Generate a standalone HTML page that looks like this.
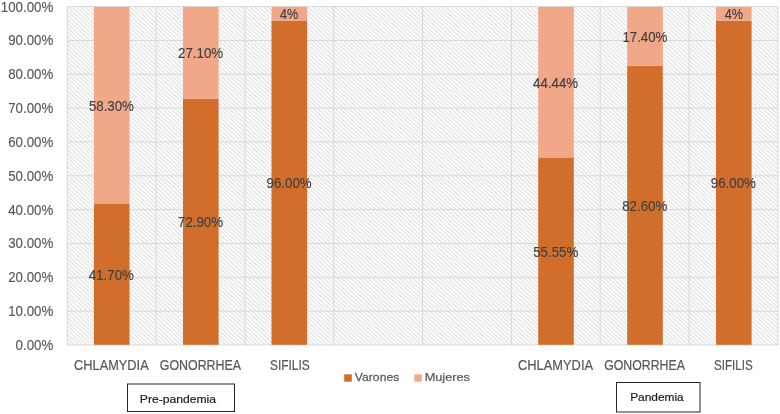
<!DOCTYPE html>
<html><head><meta charset="utf-8"><style>
html,body{margin:0;padding:0;background:#fff;width:780px;height:414px;overflow:hidden}
svg{display:block;will-change:transform}
text{font-family:"Liberation Sans",sans-serif}
</style></head><body>
<svg width="780" height="414" viewBox="0 0 780 414">
<defs>
<pattern id="h" patternUnits="userSpaceOnUse" x="67.25" y="6.6" width="4.45" height="4.2"><path d="M0,0 L4.45,4.2 M-4.45,0 L0,4.2 M4.45,0 L8.9,4.2 M0,-4.2 L4.45,0 M0,4.2 L4.45,8.4" stroke="#D8D8D8" stroke-width="1.0" fill="none"/></pattern>
</defs>

<rect x="67.25" y="6.6" width="710.65" height="338.40" fill="url(#h)"/>
<line x1="67.25" y1="345.00" x2="777.9" y2="345.00" stroke="#D9D9D9" stroke-width="1"/>
<line x1="67.25" y1="311.16" x2="777.9" y2="311.16" stroke="#D9D9D9" stroke-width="1"/>
<line x1="67.25" y1="277.32" x2="777.9" y2="277.32" stroke="#D9D9D9" stroke-width="1"/>
<line x1="67.25" y1="243.48" x2="777.9" y2="243.48" stroke="#D9D9D9" stroke-width="1"/>
<line x1="67.25" y1="209.64" x2="777.9" y2="209.64" stroke="#D9D9D9" stroke-width="1"/>
<line x1="67.25" y1="175.80" x2="777.9" y2="175.80" stroke="#D9D9D9" stroke-width="1"/>
<line x1="67.25" y1="141.96" x2="777.9" y2="141.96" stroke="#D9D9D9" stroke-width="1"/>
<line x1="67.25" y1="108.12" x2="777.9" y2="108.12" stroke="#D9D9D9" stroke-width="1"/>
<line x1="67.25" y1="74.28" x2="777.9" y2="74.28" stroke="#D9D9D9" stroke-width="1"/>
<line x1="67.25" y1="40.44" x2="777.9" y2="40.44" stroke="#D9D9D9" stroke-width="1"/>
<line x1="67.25" y1="6.60" x2="777.9" y2="6.60" stroke="#D9D9D9" stroke-width="1"/>
<line x1="67.25" y1="6.6" x2="67.25" y2="345.0" stroke="#D9D9D9" stroke-width="1"/>
<line x1="156.08" y1="6.6" x2="156.08" y2="345.0" stroke="#D9D9D9" stroke-width="1"/>
<line x1="244.91" y1="6.6" x2="244.91" y2="345.0" stroke="#D9D9D9" stroke-width="1"/>
<line x1="333.74" y1="6.6" x2="333.74" y2="345.0" stroke="#D9D9D9" stroke-width="1"/>
<line x1="422.57" y1="6.6" x2="422.57" y2="345.0" stroke="#D9D9D9" stroke-width="1"/>
<line x1="511.41" y1="6.6" x2="511.41" y2="345.0" stroke="#D9D9D9" stroke-width="1"/>
<line x1="600.24" y1="6.6" x2="600.24" y2="345.0" stroke="#D9D9D9" stroke-width="1"/>
<line x1="689.07" y1="6.6" x2="689.07" y2="345.0" stroke="#D9D9D9" stroke-width="1"/>
<line x1="777.90" y1="6.6" x2="777.90" y2="345.0" stroke="#D9D9D9" stroke-width="1"/>
<rect x="93.90" y="204.00" width="35.6" height="140.80" fill="#D26E2B"/>
<rect x="93.90" y="6.80" width="35.6" height="197.20" fill="#F1A889"/>
<rect x="183.00" y="98.90" width="35.6" height="245.90" fill="#D26E2B"/>
<rect x="183.00" y="6.80" width="35.6" height="92.10" fill="#F1A889"/>
<rect x="271.50" y="20.90" width="35.6" height="323.90" fill="#D26E2B"/>
<rect x="271.50" y="6.80" width="35.6" height="14.10" fill="#F1A889"/>
<rect x="538.20" y="157.40" width="35.6" height="187.40" fill="#D26E2B"/>
<rect x="538.20" y="6.80" width="35.6" height="150.60" fill="#F1A889"/>
<rect x="627.20" y="65.70" width="35.6" height="279.10" fill="#D26E2B"/>
<rect x="627.20" y="6.80" width="35.6" height="58.90" fill="#F1A889"/>
<rect x="716.00" y="20.90" width="35.6" height="323.90" fill="#D26E2B"/>
<rect x="716.00" y="6.80" width="35.6" height="14.10" fill="#F1A889"/>
<rect x="344.2" y="374.3" width="7.6" height="7.4" fill="#D26E2B"/>
<rect x="414.3" y="374.3" width="7.5" height="7.4" fill="#F1A889"/>
<rect x="127.5" y="384" width="107" height="27.5" fill="none" stroke="#262626" stroke-width="1"/>
<rect x="616.5" y="382.5" width="83.5" height="29.5" fill="none" stroke="#262626" stroke-width="1"/>
<text transform="translate(88.88,111.00) scale(0.9600,1)" x="0" y="0" font-size="13.85" fill="#404040" stroke="#404040" stroke-width="0.15">58.30%</text>
<text transform="translate(88.81,280.00) scale(0.9600,1)" x="0" y="0" font-size="13.85" fill="#404040" stroke="#404040" stroke-width="0.15">41.70%</text>
<text transform="translate(178.06,58.00) scale(0.9600,1)" x="0" y="0" font-size="13.85" fill="#404040" stroke="#404040" stroke-width="0.15">27.10%</text>
<text transform="translate(178.01,227.00) scale(0.9600,1)" x="0" y="0" font-size="13.85" fill="#404040" stroke="#404040" stroke-width="0.15">72.90%</text>
<text transform="translate(280.10,19.00) scale(0.9100,1)" x="0" y="0" font-size="13.85" fill="#404040" stroke="#404040" stroke-width="0.15">4%</text>
<text transform="translate(266.53,188.00) scale(0.9600,1)" x="0" y="0" font-size="13.85" fill="#404040" stroke="#404040" stroke-width="0.15">96.00%</text>
<text transform="translate(533.11,88.00) scale(0.9600,1)" x="0" y="0" font-size="13.85" fill="#404040" stroke="#404040" stroke-width="0.15">44.44%</text>
<text transform="translate(533.18,257.00) scale(0.9600,1)" x="0" y="0" font-size="13.85" fill="#404040" stroke="#404040" stroke-width="0.15">55.55%</text>
<text transform="translate(622.38,42.00) scale(0.9600,1)" x="0" y="0" font-size="13.85" fill="#404040" stroke="#404040" stroke-width="0.15">17.40%</text>
<text transform="translate(622.23,211.00) scale(0.9600,1)" x="0" y="0" font-size="13.85" fill="#404040" stroke="#404040" stroke-width="0.15">82.60%</text>
<text transform="translate(710.83,188.00) scale(0.9600,1)" x="0" y="0" font-size="13.85" fill="#404040" stroke="#404040" stroke-width="0.15">96.00%</text>
<text transform="translate(724.65,19.00) scale(0.9100,1)" x="0" y="0" font-size="13.85" fill="#404040" stroke="#404040" stroke-width="0.15">4%</text>
<text transform="translate(52.90,350.00) scale(0.9600,1)" x="-38.87" y="0" font-size="13.85" fill="#595959" stroke="#595959" stroke-width="0.15">0.00%</text>
<text transform="translate(52.90,316.00) scale(0.9600,1)" x="-46.57" y="0" font-size="13.85" fill="#595959" stroke="#595959" stroke-width="0.15">10.00%</text>
<text transform="translate(52.90,282.00) scale(0.9600,1)" x="-46.57" y="0" font-size="13.85" fill="#595959" stroke="#595959" stroke-width="0.15">20.00%</text>
<text transform="translate(52.90,248.00) scale(0.9600,1)" x="-46.57" y="0" font-size="13.85" fill="#595959" stroke="#595959" stroke-width="0.15">30.00%</text>
<text transform="translate(52.90,215.00) scale(0.9600,1)" x="-46.57" y="0" font-size="13.85" fill="#595959" stroke="#595959" stroke-width="0.15">40.00%</text>
<text transform="translate(52.90,181.00) scale(0.9600,1)" x="-46.57" y="0" font-size="13.85" fill="#595959" stroke="#595959" stroke-width="0.15">50.00%</text>
<text transform="translate(52.90,147.00) scale(0.9600,1)" x="-46.57" y="0" font-size="13.85" fill="#595959" stroke="#595959" stroke-width="0.15">60.00%</text>
<text transform="translate(52.90,113.00) scale(0.9600,1)" x="-46.57" y="0" font-size="13.85" fill="#595959" stroke="#595959" stroke-width="0.15">70.00%</text>
<text transform="translate(52.90,79.00) scale(0.9600,1)" x="-46.57" y="0" font-size="13.85" fill="#595959" stroke="#595959" stroke-width="0.15">80.00%</text>
<text transform="translate(52.90,45.00) scale(0.9600,1)" x="-46.57" y="0" font-size="13.85" fill="#595959" stroke="#595959" stroke-width="0.15">90.00%</text>
<text transform="translate(52.90,12.00) scale(0.9600,1)" x="-54.27" y="0" font-size="13.85" fill="#595959" stroke="#595959" stroke-width="0.15">100.00%</text>
<text transform="translate(74.06,370.00) scale(0.9080,1)" x="0" y="0" font-size="14.10" fill="#595959" stroke="#595959" stroke-width="0.22">CHLAMYDIA</text>
<text transform="translate(159.78,370.00) scale(0.8804,1)" x="0" y="0" font-size="14.10" fill="#595959" stroke="#595959" stroke-width="0.22">GONORRHEA</text>
<text transform="translate(270.02,370.00) scale(0.8448,1)" x="0" y="0" font-size="14.10" fill="#595959" stroke="#595959" stroke-width="0.22">SIFILIS</text>
<text transform="translate(518.06,370.00) scale(0.9117,1)" x="0" y="0" font-size="14.10" fill="#595959" stroke="#595959" stroke-width="0.22">CHLAMYDIA</text>
<text transform="translate(604.18,370.00) scale(0.8738,1)" x="0" y="0" font-size="14.10" fill="#595959" stroke="#595959" stroke-width="0.22">GONORRHEA</text>
<text transform="translate(713.93,370.00) scale(0.8273,1)" x="0" y="0" font-size="14.10" fill="#595959" stroke="#595959" stroke-width="0.22">SIFILIS</text>
<text transform="translate(354.80,381.00) scale(1.0616,1)" x="0" y="0" font-size="11.50" fill="#595959" stroke="#595959" stroke-width="0.25">Varones</text>
<text transform="translate(424.68,381.00) scale(1.1076,1)" x="0" y="0" font-size="11.50" fill="#595959" stroke="#595959" stroke-width="0.25">Mujeres</text>
<text transform="translate(139.83,403.00) scale(1.0566,1)" x="0" y="0" font-size="11.50" fill="#1a1a1a" stroke="#1a1a1a" stroke-width="0.2">Pre-pandemia</text>
<text transform="translate(630.15,401.00) scale(1.0352,1)" x="0" y="0" font-size="11.50" fill="#1a1a1a" stroke="#1a1a1a" stroke-width="0.2">Pandemia</text>
</svg>
</body></html>
